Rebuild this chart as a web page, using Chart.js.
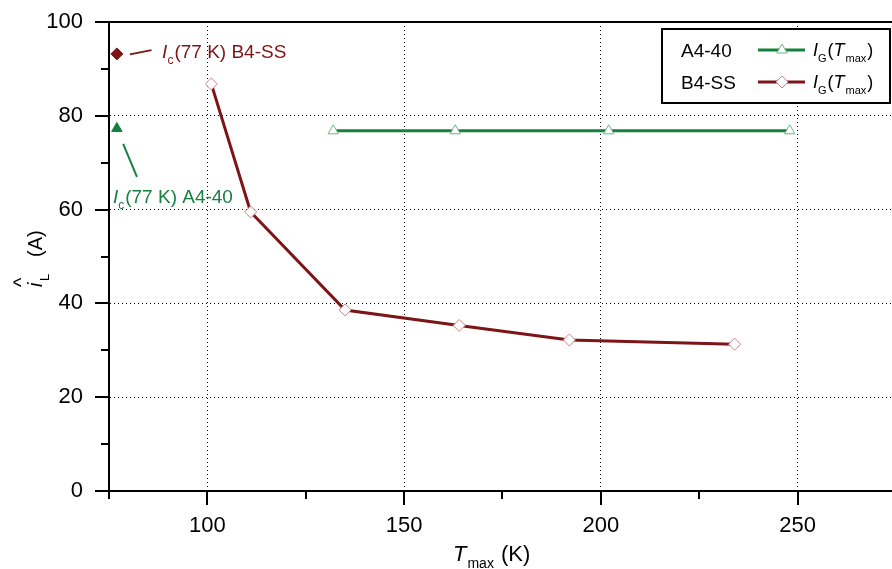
<!DOCTYPE html>
<html lang="en">
<head>
<meta charset="utf-8">
<script src="https://cdn.jsdelivr.net/npm/chart.js@4"></script>
<style>
  body { margin: 0; background: #fff; }
</style>
</head>
<body>
<canvas id="myChart" width="892" height="569"></canvas>
<script>
// A4-40 : I_G(T_max)
const tmaxA = [132, 163, 202, 248]
const igA = [76.8, 76.8, 76.8, 76.8]
// B4-SS : I_G(T_max)
const tmaxB = [101, 111, 135, 164, 192, 234]
const igB = [86.8, 59.5, 38.6, 35.3, 32.2, 31.3]
// critical currents at 77 K
const icT = 77
const icA4 = 77.3
const icB4 = 93.2

// ticks (all = major + minor marks, labels = major only)
const xTicks = [75, 100, 125, 150, 175, 200, 225, 250]
const xLabels = [100, 150, 200, 250]
const yTicks = [0, 10, 20, 30, 40, 50, 60, 70, 80, 90, 100]
const yLabels = [0, 20, 40, 60, 80, 100]

const red = "#7d1416"
const redLight = "#c98787"
const green = "#17803f"
const greenLight = "#6cb486"
const FONT = "'Liberation Sans', Arial, sans-serif"

// draw text with italics / subscripts, returns x at the end
function rich(ctx, x, y, parts, size) {
    parts.forEach((p) => {
        const fs = p.sub ? Math.round(size * 0.62) : size
        ctx.font = (p.it ? "italic " : "") + fs + "px " + FONT
        x += p.dx || 0
        ctx.fillText(p.t, x, y + (p.sub ? size * 0.32 : 0))
        x += ctx.measureText(p.t).width
    })
    return x
}

const extras = {
    id: "extras",
    afterDraw(chart) {
        const ctx = chart.ctx
        const xs = chart.scales.x
        const ys = chart.scales.y
        const area = chart.chartArea
        ctx.save()

        // top frame line + tick marks
        ctx.strokeStyle = "#000"
        ctx.lineWidth = 2
        ctx.beginPath()
        ctx.moveTo(area.left - 1, area.top)
        ctx.lineTo(area.right, area.top)
        xTicks.forEach((v) => {
            const px = Math.round(xs.getPixelForValue(v))
            const len = xLabels.includes(v) ? 14 : 8
            ctx.moveTo(px, area.bottom)
            ctx.lineTo(px, area.bottom + len)
        })
        yTicks.forEach((v) => {
            const py = Math.round(ys.getPixelForValue(v))
            const len = yLabels.includes(v) ? 14 : 8
            ctx.moveTo(area.left - len, py)
            ctx.lineTo(area.left, py)
        })
        ctx.stroke()

        // annotations for Ic(77 K)
        ctx.lineWidth = 2
        ctx.strokeStyle = red
        ctx.beginPath()
        ctx.moveTo(xs.getPixelForValue(80.3), ys.getPixelForValue(93.1))
        ctx.lineTo(xs.getPixelForValue(85.8), ys.getPixelForValue(94.0))
        ctx.stroke()
        ctx.fillStyle = red
        ctx.textBaseline = "alphabetic"
        ctx.textAlign = "left"
        rich(ctx, xs.getPixelForValue(88.5), ys.getPixelForValue(92.4),
            [{ t: "I", it: true }, { t: "c", sub: true }, { t: "(77 K) B4-SS", dx: 1 }], 19)

        ctx.strokeStyle = green
        ctx.beginPath()
        ctx.moveTo(xs.getPixelForValue(78.6), ys.getPixelForValue(74.0))
        ctx.lineTo(xs.getPixelForValue(82.1), ys.getPixelForValue(67.0))
        ctx.stroke()
        ctx.fillStyle = green
        rich(ctx, xs.getPixelForValue(76.0), ys.getPixelForValue(61.5),
            [{ t: "I", it: true }, { t: "c", sub: true }, { t: "(77 K) A4-40", dx: 1 }], 19)

        // legend
        const bx = area.right - 230, by = area.top + 7, bw = 228, bh = 74
        ctx.fillStyle = "#fff"
        ctx.fillRect(bx, by, bw, bh)
        ctx.strokeStyle = "#000"
        ctx.lineWidth = 2
        ctx.strokeRect(bx, by, bw, bh)
        const rows = [
            { name: "A4-40", color: green, light: greenLight, style: "triangle" },
            { name: "B4-SS", color: red, light: redLight, style: "rectRot" },
        ]
        rows.forEach((r, i) => {
            const cy = by + 21 + i * 32
            ctx.fillStyle = "#000"
            ctx.font = "19px " + FONT
            ctx.fillText(r.name, bx + 19, cy + 7)
            ctx.strokeStyle = r.color
            ctx.lineWidth = 3
            ctx.beginPath()
            ctx.moveTo(bx + 96, cy)
            ctx.lineTo(bx + 143, cy)
            ctx.stroke()
            ctx.fillStyle = "#fff"
            ctx.strokeStyle = r.light
            ctx.lineWidth = 1
            Chart.helpers.drawPoint(ctx, { pointStyle: r.style, radius: 6, borderWidth: 1 }, bx + 120, cy)
            ctx.fillStyle = "#000"
            rich(ctx, bx + 151, cy + 6,
                [{ t: "I", it: true }, { t: "G", sub: true }, { t: "(", dx: 1 }, { t: "T", it: true },
                 { t: "max", sub: true, dx: 1 }, { t: ")", dx: 1 }], 18)
        })

        // axis titles
        ctx.fillStyle = "#000"
        rich(ctx, 453, 561, [{ t: "T", it: true }, { t: "max", sub: true, dx: 1 }, { t: " (K)", dx: 1 }], 22)

        ctx.translate(42, 287)
        ctx.rotate(-Math.PI / 2)
        ctx.font = "italic 20px " + FONT
        ctx.fillText("i", 0, 0)
        ctx.font = "20px " + FONT
        ctx.fillText("^", 0, -14)
        ctx.font = "13px " + FONT
        ctx.fillText("L", 6, 7)
        ctx.font = "20px " + FONT
        ctx.fillText("(A)", 30, 0)

        ctx.restore()
    },
}

function noPad(s) {
    s.paddingTop = 0
    s.paddingBottom = 0
    s.paddingLeft = 0
    s.paddingRight = 0
}

const ctx = document.getElementById("myChart")
new Chart(ctx, {
    type: "scatter",
    data: {
        datasets: [
            {
                label: "A4-40 IG(Tmax)",
                data: tmaxA.map((t, i) => ({ x: t, y: igA[i] })),
                showLine: true,
                borderColor: green,
                borderWidth: 3,
                pointStyle: "triangle",
                pointRadius: 6,
                pointBackgroundColor: "#fff",
                pointBorderColor: greenLight,
                pointBorderWidth: 1,
            },
            {
                label: "B4-SS IG(Tmax)",
                data: tmaxB.map((t, i) => ({ x: t, y: igB[i] })),
                showLine: true,
                borderColor: red,
                borderWidth: 3,
                pointStyle: "rectRot",
                pointRadius: 6,
                pointBackgroundColor: "#fff",
                pointBorderColor: redLight,
                pointBorderWidth: 1,
            },
            {
                label: "Ic(77 K) B4-SS",
                data: [{ x: icT, y: icB4 }],
                pointStyle: "rectRot",
                pointRadius: 6,
                pointBackgroundColor: red,
                pointBorderColor: red,
            },
            {
                label: "Ic(77 K) A4-40",
                data: [{ x: icT, y: icA4 }],
                pointStyle: "triangle",
                pointRadius: 6,
                pointBackgroundColor: green,
                pointBorderColor: green,
            },
        ],
    },
    options: {
        responsive: false,
        animation: false,
        devicePixelRatio: 1,
        layout: { autoPadding: false, padding: { top: 22, right: 0, left: 0, bottom: 0 } },
        plugins: {
            legend: { display: false },
            tooltip: { enabled: false },
        },
        scales: {
            x: {
                type: "linear",
                position: "bottom",
                min: 75,
                max: 274,
                afterBuildTicks: (s) => { s.ticks = xTicks.map((v) => ({ value: v })) },
                afterFit: (s) => { s.height = 78; noPad(s) },
                grid: {
                    color: (c) => (xLabels.includes(c.tick.value) ? "#000" : "rgba(0,0,0,0)"),
                    lineWidth: 1,
                    drawTicks: false,
                },
                border: { display: true, color: "#000", width: 2, dash: [1, 3] },
                ticks: {
                    padding: 22,
                    color: "#000",
                    font: { family: FONT, size: 22 },
                    maxRotation: 0,
                    autoSkip: false,
                    callback: (v) => (xLabels.includes(v) ? String(v) : ""),
                },
            },
            y: {
                min: 0,
                max: 100,
                afterBuildTicks: (s) => { s.ticks = yTicks.map((v) => ({ value: v })) },
                afterFit: (s) => { s.width = 109; noPad(s) },
                grid: {
                    color: (c) => (yLabels.includes(c.tick.value) ? "#000" : "rgba(0,0,0,0)"),
                    lineWidth: 1,
                    drawTicks: false,
                },
                border: { display: true, color: "#000", width: 2, dash: [1, 3] },
                ticks: {
                    padding: 26,
                    color: "#000",
                    font: { family: FONT, size: 22 },
                    autoSkip: false,
                    callback: (v) => (yLabels.includes(v) ? String(v) : ""),
                },
            },
        },
    },
    plugins: [extras],
})
</script>
</body>
</html>
